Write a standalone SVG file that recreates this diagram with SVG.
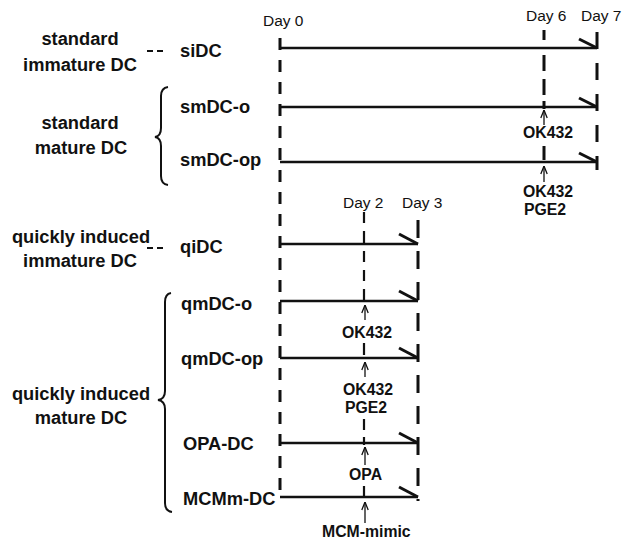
<svg xmlns="http://www.w3.org/2000/svg" width="623" height="542" viewBox="0 0 623 542">
  <style>
    .cat { font-family: "Liberation Sans", Arial, sans-serif; font-weight: bold; font-size: 18.3px; fill: #111; text-anchor: middle; }
    .row { font-family: "Liberation Sans", Arial, sans-serif; font-weight: bold; font-size: 18.3px; fill: #111; }
    .day { font-family: "Liberation Sans", Arial, sans-serif; font-size: 15.5px; fill: #111; }
    .agent { font-family: "Liberation Sans", Arial, sans-serif; font-weight: bold; font-size: 15.8px; fill: #111; }
    .track { stroke: #111; stroke-width: 2.6; fill: none; }
    .barb { stroke: #111; stroke-width: 3; fill: none; stroke-linecap: butt; }
    .day-line { stroke: #111; stroke-width: 3; fill: none; }
    .day-thin { stroke: #111; stroke-width: 2.2; fill: none; }
    .brace { stroke: #111; stroke-width: 2; fill: none; }
    .dash { stroke: #111; stroke-width: 2; }
    .cue { stroke: #111; stroke-width: 1.3; fill: none; marker-end: url(#tip); }
  </style>
  <defs>
    <!-- open arrowhead pointing along the path direction -->
    <marker id="tip" viewBox="0 0 9 8" refX="8.5" refY="4" markerWidth="9" markerHeight="8" orient="auto" markerUnits="userSpaceOnUse">
      <path d="M0.5,0.8 L8.5,4 L0.5,7.2" fill="none" stroke="#111" stroke-width="1.3"/>
    </marker>
  </defs>
  <rect width="623" height="542" fill="#fff"/>

  <!-- day markers -->
  <g id="days">
    <text class="day" x="263" y="26">Day 0</text>
    <text class="day" x="526" y="21">Day 6</text>
    <text class="day" x="581" y="21">Day 7</text>
    <text class="day" x="343" y="208">Day 2</text>
    <text class="day" x="402" y="208">Day 3</text>
  </g>

  <!-- dashed day guides; Day 6 and Day 2 break around the treatment labels -->
  <g id="connectors">
    <path class="day-line" d="M280,38 V499" stroke-dasharray="12 10"/>
    <path class="day-line" d="M544,30 V40 M544,55 V71 M544,79 V95 M544,101 V109 M544,146 V160"/>
    <path class="day-line" d="M597,32 V170" stroke-dasharray="17 14"/>
    <path class="day-thin" d="M364,212 V223 M364,231 V243 M364,251 V262 M364,270 V281 M364,289 V302 M364,343 V355 M364,419 V430 M364,437 V445 M364,486 V497"/>
    <path class="day-line" d="M418,220 V501" stroke-dasharray="18 13"/>
  </g>

  <!-- categories -->
  <g id="cat-standard-immature">
    <text class="cat" x="80" y="45">standard</text>
    <text class="cat" x="80" y="71">immature DC</text>
    <line class="dash" x1="147" y1="51" x2="153" y2="51"/>
    <line class="dash" x1="157" y1="51" x2="163" y2="51"/>
  </g>
  <g id="cat-standard-mature">
    <text class="cat" x="80" y="129">standard</text>
    <text class="cat" x="81" y="154">mature DC</text>
    <path class="brace" d="M168,87 Q161,88 161,96 L161,128 Q161,136 155,137 Q161,138 161,146 L161,176 Q161,184 168,185"/>
  </g>
  <g id="cat-quick-immature">
    <text class="cat" x="81" y="243">quickly induced</text>
    <text class="cat" x="80" y="267">immature DC</text>
    <line class="dash" x1="147" y1="248" x2="153" y2="248"/>
    <line class="dash" x1="157" y1="248" x2="163" y2="248"/>
  </g>
  <g id="cat-quick-mature">
    <text class="cat" x="81" y="400">quickly induced</text>
    <text class="cat" x="81" y="424">mature DC</text>
    <path class="brace" d="M171,293 Q165,294 165,302 L165,391 Q165,399 158,400 Q165,401 165,409 L165,503 Q165,511 172,512"/>
  </g>

  <!-- culture tracks -->
  <g id="siDC">
    <text class="row" x="180" y="57">siDC</text>
    <path class="track" d="M280,48 H597"/>
    <path class="barb" d="M579,39 L597,48"/>
  </g>
  <g id="smDC-o">
    <text class="row" x="180" y="113">smDC-o</text>
    <path class="track" d="M280,107 H597"/>
    <path class="barb" d="M579,98 L597,107"/>
    <path class="cue" d="M544,125 V110"/>
    <text class="agent" x="523" y="138">OK432</text>
  </g>
  <g id="smDC-op">
    <text class="row" x="180" y="166">smDC-op</text>
    <path class="track" d="M280,162 H597"/>
    <path class="barb" d="M579,153 L597,162"/>
    <path class="cue" d="M544,182 V166"/>
    <text class="agent" x="523" y="197">OK432</text>
    <text class="agent" x="524" y="215">PGE2</text>
  </g>
  <g id="qiDC">
    <text class="row" x="180" y="253">qiDC</text>
    <path class="track" d="M280,244 H418"/>
    <path class="barb" d="M399,234 L418,244"/>
  </g>
  <g id="qmDC-o">
    <text class="row" x="181" y="310">qmDC-o</text>
    <path class="track" d="M280,301 H418"/>
    <path class="barb" d="M399,291 L418,301"/>
    <path class="cue" d="M365,320 V305"/>
    <text class="agent" x="342" y="338">OK432</text>
  </g>
  <g id="qmDC-op">
    <text class="row" x="181" y="365">qmDC-op</text>
    <path class="track" d="M280,358 H418"/>
    <path class="barb" d="M399,348 L418,358"/>
    <path class="cue" d="M365,377 V362"/>
    <text class="agent" x="343" y="395">OK432</text>
    <text class="agent" x="345" y="413">PGE2</text>
  </g>
  <g id="OPA-DC">
    <text class="row" x="183" y="450">OPA-DC</text>
    <path class="track" d="M280,443 H418"/>
    <path class="barb" d="M399,433 L418,443"/>
    <path class="cue" d="M365,465 V447"/>
    <text class="agent" x="349" y="480">OPA</text>
  </g>
  <g id="MCMm-DC">
    <text class="row" x="183" y="505">MCMm-DC</text>
    <path class="track" d="M280,497 H418"/>
    <path class="barb" d="M399,487 L418,497"/>
    <path class="cue" d="M365,523 V502"/>
    <text class="agent" x="322" y="537">MCM-mimic</text>
  </g>
</svg>
